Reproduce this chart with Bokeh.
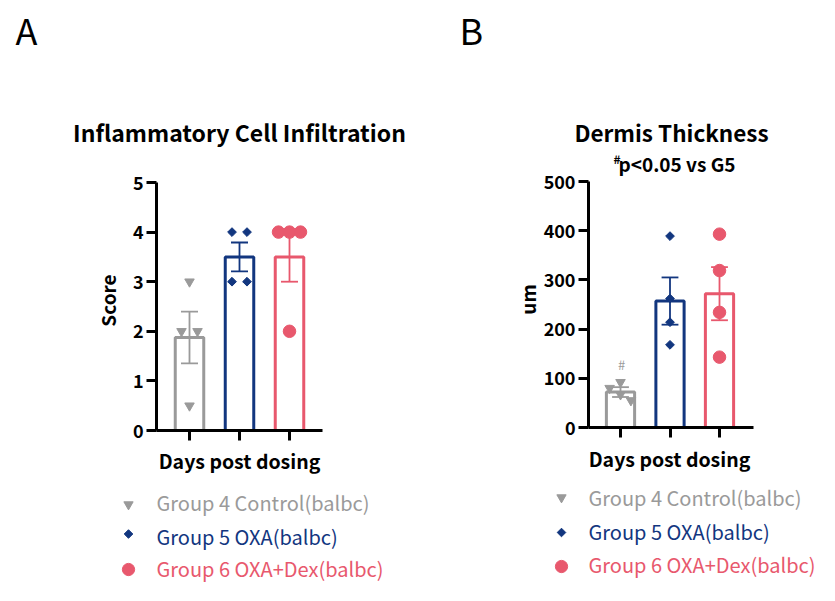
import numpy as np
from bokeh.plotting import figure
from bokeh.models import Range1d, FixedTicker, Label, LinearAxis
from bokeh.embed import file_html
from bokeh.resources import INLINE

# ---------------- data ----------------
groups = ["Group 4 Control(balbc)", "Group 5 OXA(balbc)", "Group 6 OXA+Dex(balbc)"]
colors = ["#9a9a9a", "#12367f", "#e8586d"]

# Panel A: Inflammatory Cell Infiltration (Score)
score_points = [[3, 2, 2, 0.5], [4, 4, 3, 3], [4, 4, 4, 2]]
score_mean = [1.875, 3.5, 3.5]
score_sem = [0.52, 0.29, 0.5]
score_ticks = [0, 1, 2, 3, 4, 5]

# Panel B: Dermis Thickness (um)
derm_points = [[92, 80, 67, 55], [389, 262, 214, 168], [393, 319, 234, 143]]
derm_mean = [72, 257, 272]
derm_sem = [10, 48, 54]
derm_ticks = [0, 100, 200, 300, 400, 500]

# horizontal spread of overlapping points (layout only)
jitter_A = [[0, -0.16, 0.16, 0], [-0.15, 0.15, -0.15, 0.15], [-0.22, 0, 0.22, 0]]
jitter_B = [[0, -0.22, 0, 0.21], [0, 0, 0, 0], [0, 0, 0, 0]]

FONT = "Noto Sans CJK SC"
marker_kw = [
    dict(marker="inverted_triangle", size=9.5, angle=0),
    dict(marker="square", size=6.2, angle=np.pi / 4),
    dict(marker="circle", size=12.5, angle=0),
]

# ---------------- page geometry ----------------
W, H = 819, 585
OX, OY = 0, 0  # page position of the figure's top-left corner

p = figure(width=W, height=H, output_backend="svg", toolbar_location=None,
           x_range=Range1d(0, W), y_range=Range1d(H, 0),
           x_axis_type=None, y_axis_type=None, min_border=0,
           min_border_left=0, min_border_right=0, min_border_top=0, min_border_bottom=0)
p.outline_line_color = None
p.grid.grid_line_color = None
p.background_fill_color = "white"
p.border_fill_color = "white"


def panel_ranges(name, cx1, spacing, axis_x, axis_right, y0_px, ytop_px, ytop_val):
    """ranges for one panel so that category 1 sits at page x cx1 and value 0 at page y y0_px"""
    x_start = 1 - (cx1 - OX) / spacing
    p.extra_x_ranges[name] = Range1d(x_start, x_start + W / spacing)
    ppu = (y0_px - ytop_px) / ytop_val
    y_bottom = (y0_px - (OY + H)) / ppu
    y_top = (y0_px - OY) / ppu
    p.extra_y_ranges[name] = Range1d(y_bottom, y_top)
    xl = 1 - (cx1 - axis_x) / spacing
    xr = 1 + (axis_right - cx1) / spacing
    return xl, xr


def style_axis(ax):
    ax.axis_line_width = 3
    ax.axis_line_color = "black"
    ax.major_tick_line_width = 3
    ax.major_tick_line_color = "black"
    ax.major_tick_out = 10
    ax.major_tick_in = 0
    ax.minor_tick_line_color = None
    ax.major_label_text_font = FONT
    ax.major_label_text_font_style = "bold"
    ax.major_label_text_font_size = "18px"
    ax.major_label_text_color = "black"
    ax.major_label_standoff = 3


def draw_panel(name, xl, xr, ymax, ticks, points, means, sems, jitter):
    yax = LinearAxis(x_range_name=name, y_range_name=name, fixed_location=xl,
                     bounds=(0, ymax), ticker=FixedTicker(ticks=ticks))
    style_axis(yax)
    p.add_layout(yax, "left")
    xax = LinearAxis(x_range_name=name, y_range_name=name, fixed_location=0,
                     bounds=(xl, xr), ticker=FixedTicker(ticks=[1, 2, 3]),
                     major_label_overrides={1: "", 2: "", 3: ""})
    style_axis(xax)
    p.add_layout(xax, "below")

    kw = dict(x_range_name=name, y_range_name=name)
    xs = [1, 2, 3]
    p.vbar(x=xs, width=0.57, top=means, bottom=0, fill_color="white",
           line_color=colors, line_width=3, **kw)
    lo = [m - s for m, s in zip(means, sems)]
    hi = [m + s for m, s in zip(means, sems)]
    p.segment(x0=xs, x1=xs, y0=lo, y1=hi, line_color=colors, line_width=1.8, **kw)
    for yy in (lo, hi):
        p.segment(x0=[x - 0.17 for x in xs], x1=[x + 0.17 for x in xs], y0=yy, y1=yy,
                  line_color=colors, line_width=1.8, **kw)
    for i in range(3):
        px = [xs[i] + j for j in jitter[i]]
        p.scatter(x=px, y=points[i], fill_color=colors[i], line_color=colors[i],
                  **marker_kw[i], **kw)


# text helper: (px, py) is the page position of the text's visual centre line
def add_text(px, py, text, size, bold=False, color="black", align="left", angle=0.0,
             nudge=2):
    p.add_layout(Label(x=px - OX, y=py - OY - nudge, text=text, text_font=FONT,
                       text_font_size=size,
                       text_font_style="bold" if bold else "normal",
                       text_color=color, text_align=align, text_baseline="alphabetic",
                       angle=angle))


def add_vtext(px, py, text, size):
    p.add_layout(Label(x=px - OX, y=py - OY, text=text, text_font=FONT,
                       text_font_size=size, text_font_style="bold", text_color="black",
                       text_align="center", text_baseline="middle", angle=np.pi / 2))


def add_legend(marker_x, marker_ys, text_x, text_ys):
    for i in range(3):
        p.scatter(x=[marker_x - OX], y=[marker_ys[i] - OY], fill_color=colors[i],
                  line_color=colors[i], **{**marker_kw[i], "size": marker_kw[i]["size"] * 0.98})
        add_text(text_x, text_ys[i], groups[i], "20px", color=colors[i])


# ---------------- panel A ----------------
xlA, xrA = panel_ranges("A", 189, 50, 156, 322, 430, 182, 5)
draw_panel("A", xlA, xrA, 5, score_ticks, score_points, score_mean, score_sem, jitter_A)
add_text(15, 31.5, "A", "36px", nudge=3)
add_text(239, 133.5, "Inflammatory Cell Infiltration", "23px", bold=True, align="center")
add_vtext(107, 300, "Score", "19px")
add_text(239, 461.5, "Days post dosing", "19.5px", bold=True, align="center")
add_legend(128, [504, 533.5, 569], 156, [504, 538, 570])

# ---------------- panel B ----------------
xlB, xrB = panel_ranges("B", 620, 49.5, 588, 753, 427, 181, 500)
draw_panel("B", xlB, xrB, 500, derm_ticks, derm_points, derm_mean, derm_sem, jitter_B)
add_text(459, 31.5, "B", "36px", nudge=3)
add_text(671, 133, "Dermis Thickness", "22.5px", bold=True, align="center")
add_text(613, 160, "#", "12px", bold=True)
add_text(618, 165, "p<0.05 vs G5", "19px", bold=True)
add_text(621, 366, "#", "13px", color=colors[0], align="center")
add_vtext(527, 299, "um", "19px")
add_text(669, 459.5, "Days post dosing", "19.5px", bold=True, align="center")
add_legend(561, [497, 532, 566], 588, [499, 533, 566])

open("out.html", "w").write(file_html(p, INLINE))
